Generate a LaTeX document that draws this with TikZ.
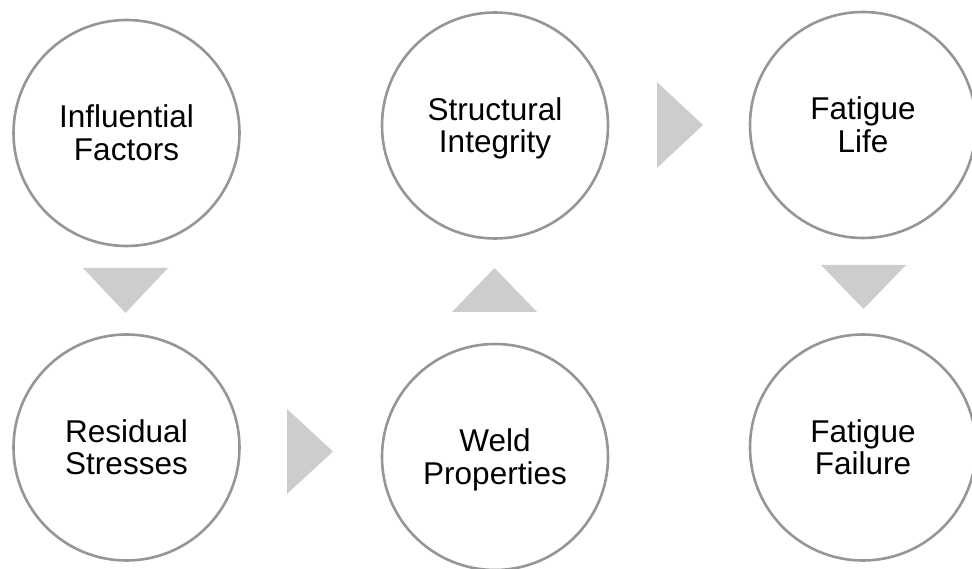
\documentclass[tikz,border=0pt]{standalone}
\usepackage{fontspec}
\setmainfont{Liberation Sans}
\definecolor{ringgray}{HTML}{969696}
\definecolor{arrowgray}{HTML}{CDCDCD}
\begin{document}
\begin{tikzpicture}[x=1pt,y=-1pt,
  ring/.style={circle, draw=ringgray, line width=2.6pt, fill=white, minimum size=226pt, inner sep=0pt},
  lbl/.style={align=center, font=\fontsize{31.5}{32.5}\selectfont, inner sep=0pt, text height=54.5pt, text depth=0pt},
  tri/.style={fill=arrowgray, draw=none}]
\useasboundingbox (0,0) rectangle (972,569);
% circles
\node[ring] (inf)  at (126.5,133) {};
\node[ring] (res)  at (126.5,447.5) {};
\node[ring] (str)  at (495,125.5) {};
\node[ring] (weld) at (495,457) {};
\node[ring] (life) at (863,125) {};
\node[ring] (fail) at (863,447.5) {};
% labels
\node[lbl] (infT)  at (inf.center)  {Influential\\Factors};
\node[lbl] (resT)  at (res.center)  {Residual\\Stresses};
\node[lbl] (strT)  at (str.center)  {Structural\\Integrity};
\node[lbl] (weldT) at (weld.center) {Weld\\Properties};
\node[lbl] (lifeT) at (life.center) {Fatigue\\Life};
\node[lbl] (failT) at (fail.center) {Fatigue\\Failure};
% arrow triangles
\fill[tri] (83,268) -- (168,268) -- (125.5,313) -- cycle;
\fill[tri] (287,409) -- (287,494) -- (333,451.5) -- cycle;
\fill[tri] (452,312) -- (537,312) -- (494.5,268) -- cycle;
\fill[tri] (657,82) -- (657,168) -- (703,125) -- cycle;
\fill[tri] (821,265) -- (906,265) -- (863.5,309) -- cycle;
\end{tikzpicture}
\end{document}
